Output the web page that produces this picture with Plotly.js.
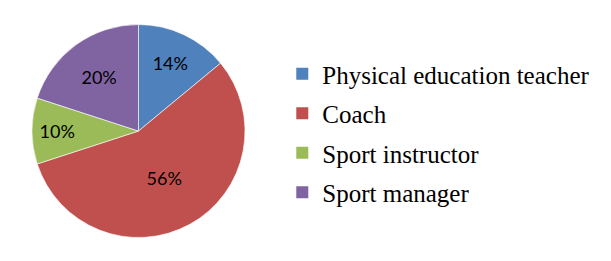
<!DOCTYPE html>
<html>
<head>
<meta charset="utf-8">
<script src="https://cdn.plot.ly/plotly-3.0.1.min.js"></script>
<style>html,body{margin:0;padding:0;background:#fff;}#chart{width:611px;height:261px;}</style>
</head>
<body>
<div id="chart"></div>
<script>
const categories = ["Physical education teacher", "Coach", "Sport instructor", "Sport manager"];
const shares = [14, 56, 10, 20];
const colors = ["#4F81BD", "#C0504D", "#9BBB59", "#8064A2"];

const pieTrace = {
  type: "pie",
  labels: categories,
  values: shares,
  sort: false,
  direction: "clockwise",
  rotation: 0,
  showlegend: false,
  marker: {colors: colors, line: {color: "#ffffff", width: 0.6}},
  textinfo: "percent",
  texttemplate: "%{percent:.0%}",
  textposition: "inside",
  insidetextorientation: "horizontal",
  textfont: {family: "Lato", size: 18, color: "#000000"},
  hoverinfo: "none",
  domain: {x: [0.0524, 0.401], y: [0.090, 0.906]}
};

// legend entries built from the same category / colour arrays
const legendTraces = categories.map((name, i) => ({
  type: "scatter",
  mode: "markers",
  x: [null], y: [null],
  name: name,
  legendgroup: "g" + i,
  marker: {symbol: "square", size: 12, color: colors[i]},
  hoverinfo: "none"
}));

const layout = {
  width: 611, height: 261,
  margin: {l: 0, r: 0, t: 0, b: 0},
  paper_bgcolor: "#ffffff",
  plot_bgcolor: "rgba(0,0,0,0)",
  xaxis: {visible: false, domain: [0.45, 0.46]},
  yaxis: {visible: false},
  showlegend: true,
  legend: {
    x: 0.462, y: 0.49, xanchor: "left", yanchor: "middle",
    tracegroupgap: 4,
    font: {family: "Times New Roman, Liberation Serif, DejaVu Serif, serif", size: 25, color: "#000000"},
    bgcolor: "rgba(0,0,0,0)"
  }
};

Plotly.newPlot("chart", [pieTrace].concat(legendTraces), layout, {staticPlot: true, displayModeBar: false});
</script>
</body>
</html>
